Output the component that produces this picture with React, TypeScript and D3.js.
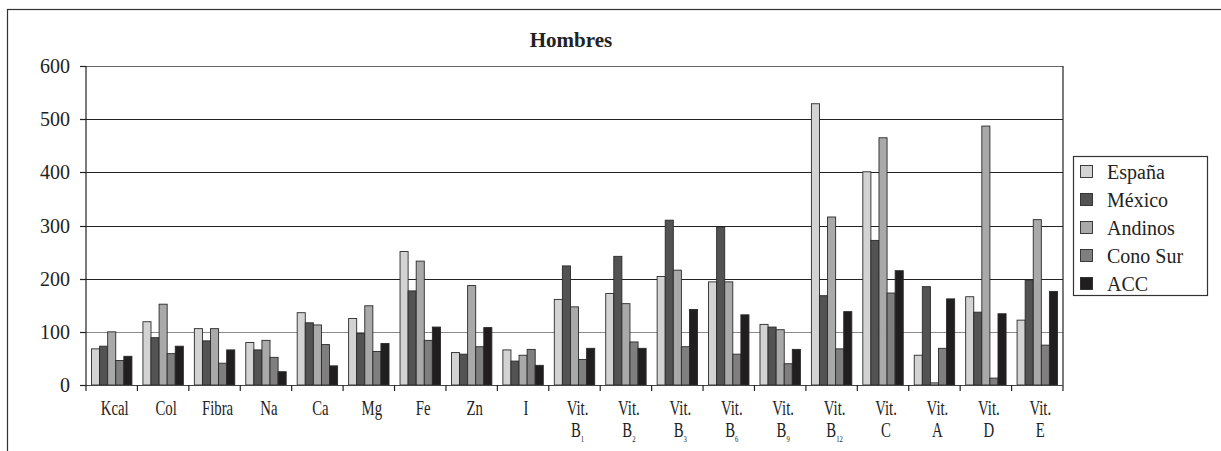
import React from "react";
import * as d3 from "d3";

const categories = ["Kcal", "Col", "Fibra", "Na", "Ca", "Mg", "Fe", "Zn", "I", "Vit. B1", "Vit. B2", "Vit. B3", "Vit. B6", "Vit. B9", "Vit. B12", "Vit. C", "Vit. A", "Vit. D", "Vit. E"];
const labelLine1 = ["Kcal", "Col", "Fibra", "Na", "Ca", "Mg", "Fe", "Zn", "I", "Vit.", "Vit.", "Vit.", "Vit.", "Vit.", "Vit.", "Vit.", "Vit.", "Vit.", "Vit."];
const labelLine2 = ["", "", "", "", "", "", "", "", "", "B", "B", "B", "B", "B", "B", "C", "A", "D", "E"];
const labelSub = ["", "", "", "", "", "", "", "", "", "1", "2", "3", "6", "9", "12", "", "", "", ""];

const seriesNames = ["España", "México", "Andinos", "Cono Sur", "ACC"];
const espana = [68, 119, 106, 80, 136, 125, 251, 61, 66, 161, 172, 204, 194, 114, 529, 401, 56, 166, 122];
const mexico = [73, 89, 83, 66, 117, 97, 177, 58, 45, 224, 242, 310, 297, 109, 168, 272, 185, 137, 197];
const andinos = [100, 152, 106, 84, 113, 149, 233, 187, 56, 147, 153, 216, 194, 104, 316, 465, 4, 487, 311];
const conoSur = [46, 59, 41, 52, 76, 63, 84, 72, 67, 48, 81, 72, 58, 40, 68, 173, 69, 13, 75];
const acc = [54, 73, 66, 25, 36, 78, 109, 108, 37, 69, 69, 142, 132, 67, 138, 215, 162, 134, 176];
const seriesValues = [espana, mexico, andinos, conoSur, acc];
const seriesColors = ["#d3d3d3", "#535353", "#a9a9a9", "#7f7f7f", "#211e1f"];
const yTicks = [0, 100, 200, 300, 400, 500, 600];

const W = 1221;
const H = 451;
const left = 86;
const right = 1063;
const top = 66;
const bottom = 385;
const ts = { fontFamily: "Liberation Serif" };

export default function App() {
  const x0 = d3.scaleBand<string>().domain(categories).range([left, right]).padding(0);
  const bw = x0.bandwidth();
  const inset = bw * 0.107;
  const x1 = d3.scaleBand<string>().domain(seriesNames).range([inset, bw - inset]).padding(0);
  const y = d3.scaleLinear().domain([0, 600]).range([bottom, top]);

  return (
    <svg width={W} height={H} style={{ position: "absolute", left: 0, top: 0 }}>
      <rect x={7.5} y={9.5} width={1400} height={800} fill="#fff" stroke="#333" strokeWidth={1.2} />
      <text x={571} y={47} textAnchor="middle" fontWeight="bold" fontSize={21} fill="#222" style={ts}>Hombres</text>

      {yTicks.filter((t) => t > 0).map((t) => (
        <line key={"g" + t} x1={left} x2={right} y1={Math.round(y(t)) + 0.5} y2={Math.round(y(t)) + 0.5}
          stroke={t === 100 ? "#8a8a8a" : t === 600 ? "#666" : "#222"} strokeWidth={1.2} />
      ))}

      {categories.map((c, ci) => (
        <g key={c} transform={`translate(${x0(c)},0)`}>
          {seriesNames.map((s, si) => {
            const v = seriesValues[si][ci];
            return (
              <rect key={s} x={x1(s)} y={y(v)} width={x1.bandwidth()} height={bottom - y(v)}
                fill={seriesColors[si]} stroke="#2a2a2a" strokeWidth={0.9} />
            );
          })}
        </g>
      ))}

      <line x1={left} x2={left} y1={top} y2={bottom} stroke="#222" strokeWidth={1.2} />
      <line x1={right} x2={right} y1={top} y2={bottom + 6} stroke="#222" strokeWidth={1.2} />
      <line x1={left} x2={right} y1={bottom + 0.5} y2={bottom + 0.5} stroke="#444" strokeWidth={1.2} />

      {yTicks.map((t) => (
        <g key={"yt" + t}>
          <line x1={left - 6} x2={left} y1={Math.round(y(t)) + 0.5} y2={Math.round(y(t)) + 0.5} stroke="#222" strokeWidth={1.2} />
          <text x={70} y={y(t) + 7} textAnchor="end" fontSize={20} fill="#222" style={ts}>{t}</text>
        </g>
      ))}

      {categories.map((c) => (
        <line key={"xt" + c} x1={x0(c)} x2={x0(c)} y1={bottom} y2={bottom + 6} stroke="#222" strokeWidth={1.2} />
      ))}

      {categories.map((c, ci) => {
        const cx = (x0(c) as number) + bw / 2 + 3;
        return (
          <g key={"xl" + c}>
            <text transform={`translate(${cx},415) scale(0.74,1)`} textAnchor="middle" fontSize={20} fill="#222" style={ts}>{labelLine1[ci]}</text>
            {labelLine2[ci] && (
              <text transform={`translate(${cx},437) scale(0.74,1)`} textAnchor="middle" fontSize={20} fill="#222" style={ts}>
                {labelLine2[ci]}
                {labelSub[ci] && <tspan fontSize={9} dy={5}>{labelSub[ci]}</tspan>}
              </text>
            )}
          </g>
        );
      })}

      <rect x={1073.5} y={156.5} width={134} height={139} fill="#fff" stroke="#333" strokeWidth={1.2} />
      {seriesNames.map((s, si) => {
        const cy = 172 + si * 28;
        return (
          <g key={"lg" + s}>
            <rect x={1080.5} y={cy - 6.5} width={12} height={12} fill={seriesColors[si]} stroke="#2a2a2a" strokeWidth={0.9} />
            <text x={1107} y={cy + 7} fontSize={20} fill="#222" style={ts}>{s}</text>
          </g>
        );
      })}
    </svg>
  );
}
